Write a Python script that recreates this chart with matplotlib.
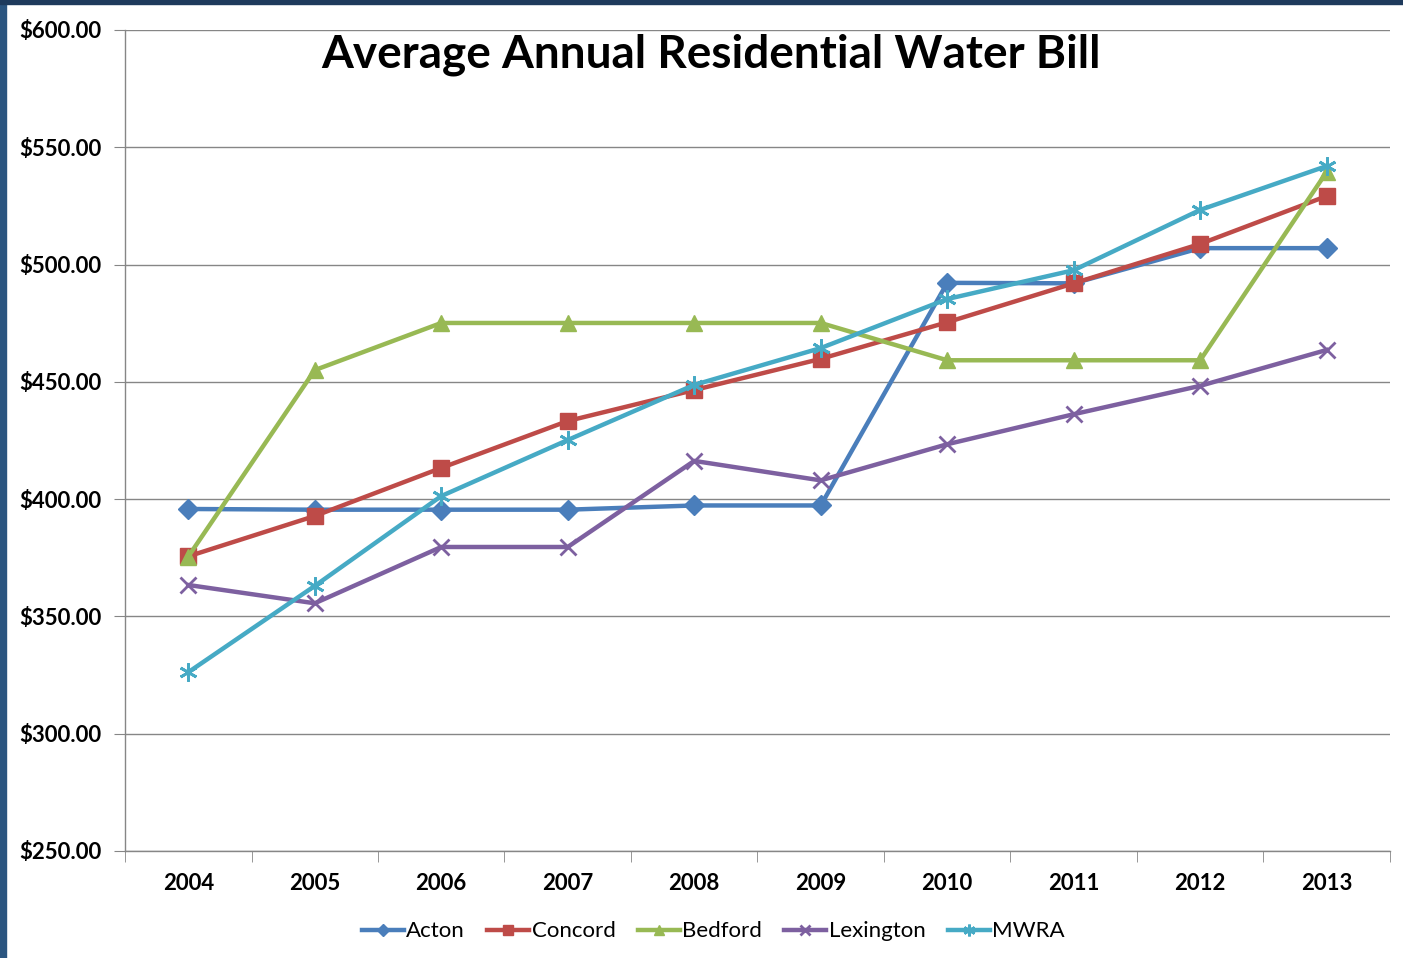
import matplotlib.pyplot as plt
from matplotlib.patches import Rectangle
from matplotlib.ticker import FixedLocator, FuncFormatter

plt.rcParams['font.family'] = ['Lato', 'DejaVu Sans']

years = ['2004', '2005', '2006', '2007', '2008', '2009', '2010', '2011', '2012', '2013']
acton = [395.8, 395.5, 395.5, 395.5, 397.3, 397.3, 492.2, 492.0, 507.0, 507.0]
concord = [375.6, 392.8, 413.3, 433.3, 446.5, 459.8, 475.4, 492.0, 508.8, 529.2]
bedford = [375.5, 455.0, 475.1, 475.1, 475.1, 475.1, 459.2, 459.2, 459.2, 539.5]
lexington = [363.4, 355.6, 379.6, 379.6, 416.3, 408.0, 423.4, 436.2, 448.3, 463.6]
mwra = [326.2, 363.0, 401.3, 425.2, 448.7, 464.4, 485.3, 497.6, 523.3, 542.0]

series = [
    ('Acton', acton, '#4A7EBB', 'D', 10),
    ('Concord', concord, '#BE4B48', 's', 11),
    ('Bedford', bedford, '#98B954', '^', 12),
    ('Lexington', lexington, '#7D60A0', 'x', 11),
    ('MWRA', mwra, '#46AAC5', (6, 2, 0), 13),
]

fig = plt.figure(figsize=(14.03, 9.58), dpi=100)
fig.patches.append(Rectangle((0, 0), 0.004, 1, transform=fig.transFigure, color='#2B5580', zorder=10))
fig.patches.append(Rectangle((0, 0.996), 1, 0.004, transform=fig.transFigure, color='#1E3A5C', zorder=10))

ax = fig.add_axes([0.0891, 0.1117, 0.9016, 0.857])
x = list(range(len(years)))
for name, vals, color, marker, ms in series:
    ax.plot(x, vals, color=color, lw=3.2, marker=marker, ms=ms, mew=2 if marker in ('x', (6, 2, 0)) else 1,
            mec=color, mfc=color, label=name, clip_on=False, zorder=3)

ax.set_xlim(-0.5, len(years) - 0.5)
ax.set_ylim(250, 600)
ax.yaxis.set_major_locator(FixedLocator([250, 300, 350, 400, 450, 500, 550, 600]))
ax.yaxis.set_major_formatter(FuncFormatter(lambda v, p: '${:.2f}'.format(v)))
ax.grid(axis='y', color='#868686', lw=1)
ax.set_axisbelow(True)

ax.set_xticks(x)
ax.set_xticklabels(years)
ax.set_xticks([i - 0.5 for i in range(len(years) + 1)], minor=True)
ax.tick_params(axis='x', which='major', length=0, pad=16, labelsize=16)
ax.tick_params(axis='x', which='minor', length=8, color='#868686', direction='out')
ax.tick_params(axis='y', length=8, color='#868686', direction='out', labelsize=16, pad=9)
for lab in ax.get_xticklabels() + ax.get_yticklabels():
    lab.set_fontweight('bold')

for s in ['top', 'right']:
    ax.spines[s].set_visible(False)
for s in ['left', 'bottom']:
    ax.spines[s].set_color('#868686')
    ax.spines[s].set_linewidth(1)

fig.text(0.507, 0.943, 'Average Annual Residential Water Bill', ha='center', va='center',
         fontsize=33, fontweight='bold')

ax.legend(loc='center', bbox_to_anchor=(0.465, -0.098), ncol=5, frameon=False, fontsize=16,
          handlelength=1.9, handletextpad=0.1, columnspacing=1.0, markerscale=0.65)

fig.savefig('out.png', dpi=100, facecolor='white')
